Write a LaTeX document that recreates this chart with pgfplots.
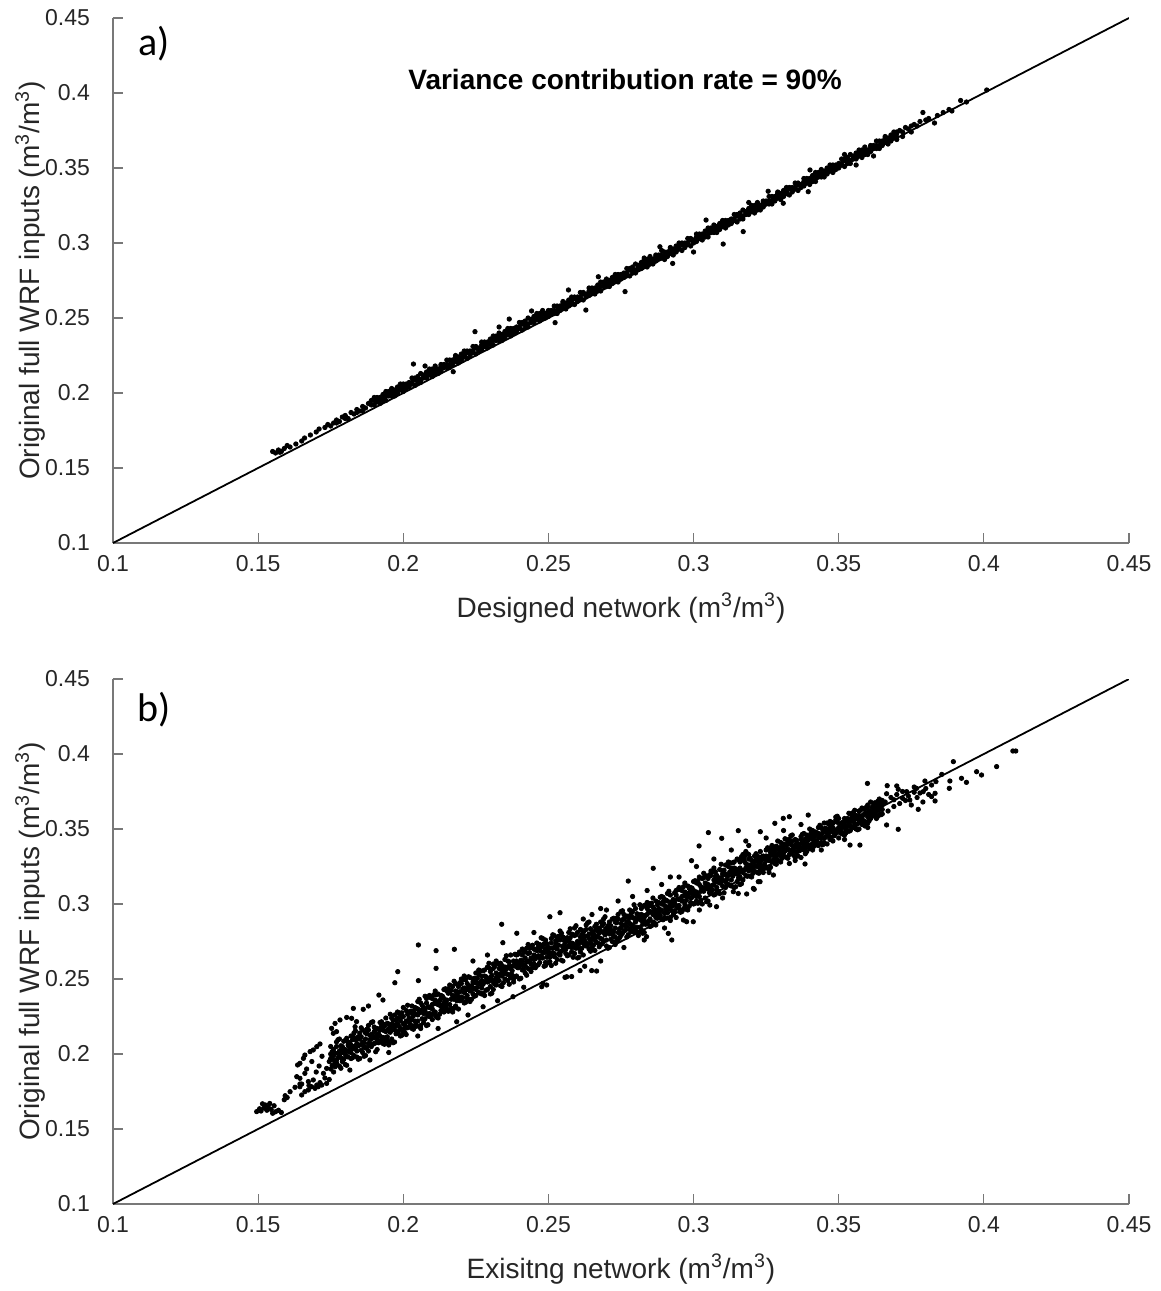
\documentclass[border=0pt]{standalone}
\usepackage{fontspec}
\setmainfont{Liberation Sans}
\newfontfamily\calib{Carlito}
\usepackage{pgfplots}
\usepackage{pgfplotstable}
\pgfplotsset{compat=1.18}
\definecolor{axgray}{RGB}{120,120,120}
\definecolor{txtgray}{RGB}{38,38,38}

\pgfplotstableread{
x a b c
0.190 0.195 0.192 0.197
0.191 0.195 0.194 0.197
0.192 0.193 0.197 0.196
0.193 0.195 0.199 0.196
0.194 0.201 0.195 0.198
0.195 0.200 0.198 0.201
0.196 0.198 0.200 0.203
0.197 0.200 0.202 0.198
0.198 0.204 0.202 0.200
0.199 0.204 0.206 0.202
0.200 0.204 0.201 0.206
0.201 0.206 0.203 0.205
0.202 0.205 0.207 0.204
0.203 0.210 0.207 0.206
0.204 0.210 0.205 0.209
0.205 0.209 0.207 0.211
0.206 0.209 0.213 0.207
0.207 0.211 0.212 0.210
0.208 0.214 0.210 0.212
0.209 0.216 0.212 0.214
0.210 0.211 0.216 0.214
0.211 0.213 0.216 0.218
0.212 0.215 0.216 0.213
0.213 0.219 0.218 0.215
0.214 0.218 0.217 0.219
0.215 0.217 0.222 0.219
0.216 0.219 0.222 0.217
0.217 0.222 0.221 0.219
0.218 0.224 0.221 0.225
0.219 0.220 0.223 0.224
0.220 0.223 0.226 0.222
0.221 0.225 0.228 0.224
0.222 0.227 0.223 0.228
0.223 0.227 0.225 0.228
0.224 0.231 0.227 0.228
0.225 0.226 0.231 0.230
0.226 0.228 0.230 0.229
0.227 0.232 0.229 0.234
0.228 0.232 0.231 0.234
0.229 0.230 0.234 0.233
0.230 0.232 0.236 0.233
0.231 0.238 0.232 0.235
0.232 0.237 0.235 0.238
0.233 0.235 0.237 0.240
0.234 0.237 0.239 0.235
0.235 0.241 0.239 0.237
0.236 0.241 0.243 0.239
0.237 0.241 0.238 0.243
0.238 0.243 0.240 0.242
0.239 0.242 0.244 0.241
0.240 0.247 0.244 0.243
0.241 0.247 0.242 0.246
0.242 0.246 0.244 0.248
0.243 0.246 0.250 0.244
0.244 0.248 0.249 0.247
0.245 0.251 0.247 0.249
0.246 0.253 0.249 0.251
0.247 0.248 0.253 0.251
0.248 0.250 0.253 0.255
0.249 0.252 0.253 0.250
0.250 0.255 0.254 0.251
0.251 0.254 0.253 0.255
0.252 0.253 0.258 0.255
0.253 0.255 0.258 0.253
0.254 0.258 0.257 0.255
0.255 0.260 0.257 0.261
0.256 0.256 0.259 0.260
0.257 0.259 0.262 0.258
0.258 0.261 0.264 0.260
0.259 0.263 0.259 0.264
0.260 0.263 0.261 0.264
0.261 0.267 0.263 0.264
0.262 0.262 0.267 0.266
0.263 0.264 0.266 0.265
0.264 0.268 0.265 0.270
0.265 0.268 0.267 0.270
0.266 0.266 0.270 0.269
0.267 0.268 0.272 0.269
0.268 0.274 0.268 0.271
0.269 0.273 0.271 0.274
0.270 0.271 0.273 0.276
0.271 0.273 0.275 0.271
0.272 0.277 0.275 0.273
0.273 0.277 0.279 0.275
0.274 0.277 0.274 0.279
0.275 0.279 0.276 0.278
0.276 0.278 0.280 0.277
0.277 0.283 0.280 0.279
0.278 0.283 0.278 0.282
0.279 0.282 0.280 0.284
0.280 0.282 0.286 0.280
0.281 0.284 0.285 0.283
0.282 0.287 0.283 0.285
0.283 0.289 0.285 0.287
0.284 0.284 0.289 0.287
0.285 0.286 0.289 0.291
0.286 0.288 0.289 0.286
0.287 0.292 0.291 0.288
0.288 0.291 0.290 0.292
0.289 0.290 0.295 0.292
0.290 0.291 0.294 0.289
0.291 0.294 0.293 0.291
0.292 0.296 0.293 0.297
0.293 0.292 0.295 0.296
0.294 0.295 0.298 0.294
0.295 0.297 0.300 0.296
0.296 0.299 0.295 0.300
0.297 0.299 0.297 0.300
0.298 0.303 0.299 0.300
0.299 0.298 0.303 0.302
0.300 0.300 0.302 0.301
0.301 0.304 0.301 0.306
0.302 0.304 0.303 0.306
0.303 0.302 0.306 0.305
0.304 0.304 0.308 0.305
0.305 0.310 0.304 0.307
0.306 0.309 0.307 0.310
0.307 0.307 0.309 0.312
0.308 0.309 0.311 0.307
0.309 0.313 0.311 0.309
0.310 0.313 0.315 0.311
0.311 0.313 0.310 0.315
0.312 0.315 0.312 0.314
0.313 0.314 0.316 0.313
0.314 0.319 0.316 0.315
0.315 0.319 0.314 0.318
0.316 0.318 0.316 0.320
0.317 0.318 0.322 0.316
0.318 0.320 0.321 0.319
0.319 0.323 0.319 0.321
0.320 0.325 0.321 0.323
0.321 0.320 0.325 0.323
0.322 0.322 0.325 0.327
0.323 0.324 0.325 0.322
0.324 0.328 0.327 0.324
0.325 0.327 0.326 0.328
0.326 0.326 0.331 0.328
0.327 0.328 0.331 0.326
0.328 0.331 0.330 0.328
0.329 0.333 0.330 0.334
0.330 0.329 0.332 0.333
0.331 0.332 0.335 0.331
0.332 0.334 0.337 0.333
0.333 0.336 0.332 0.337
0.334 0.336 0.334 0.337
0.335 0.340 0.336 0.337
0.336 0.335 0.340 0.339
0.337 0.337 0.339 0.338
0.338 0.341 0.338 0.343
0.339 0.341 0.340 0.343
0.340 0.339 0.343 0.342
0.341 0.341 0.345 0.342
0.342 0.347 0.341 0.344
0.343 0.346 0.344 0.347
0.344 0.344 0.346 0.349
0.345 0.346 0.348 0.344
0.346 0.350 0.348 0.346
0.347 0.350 0.352 0.348
0.348 0.350 0.347 0.352
0.349 0.352 0.349 0.351
0.350 0.351 0.353 0.350
0.351 0.356 0.353 0.352
0.352 0.356 0.351 0.355
0.353 0.355 0.353 0.357
0.354 0.355 0.359 0.353
0.355 0.357 0.358 0.356
0.356 0.360 0.356 0.358
0.357 0.362 0.358 0.360
0.358 0.357 0.362 0.360
0.359 0.359 0.362 0.364
0.360 0.361 0.362 0.359
0.361 0.365 0.364 0.361
0.362 0.364 0.363 0.365
0.363 0.363 0.368 0.365
0.364 0.365 0.368 0.363
0.365 0.368 0.367 0.365
0.366 0.370 0.367 0.371
0.367 0.366 0.369 0.370
0.368 0.369 0.372 0.368
0.369 0.371 0.374 0.370
0.370 0.373 0.369 0.374
}\coreA

\pgfplotstableread{
x a b c d
0.175 0.200 0.190 0.197 0.205
0.176 0.196 0.188 0.203 0.199
0.177 0.194 0.208 0.196 0.205
0.178 0.192 0.202 0.199 0.210
0.179 0.195 0.205 0.197 0.201
0.180 0.209 0.193 0.203 0.200
0.181 0.208 0.198 0.206 0.202
0.182 0.212 0.197 0.206 0.201
0.183 0.211 0.199 0.205 0.214
0.184 0.202 0.210 0.198 0.207
0.185 0.197 0.214 0.206 0.210
0.186 0.201 0.208 0.216 0.206
0.187 0.199 0.214 0.210 0.204
0.188 0.219 0.207 0.216 0.202
0.189 0.213 0.210 0.221 0.205
0.190 0.215 0.207 0.211 0.218
0.191 0.203 0.213 0.210 0.217
0.192 0.208 0.216 0.212 0.221
0.193 0.207 0.216 0.211 0.220
0.194 0.209 0.215 0.224 0.211
0.195 0.220 0.208 0.217 0.206
0.196 0.224 0.216 0.220 0.210
0.197 0.218 0.226 0.216 0.208
0.198 0.224 0.220 0.214 0.228
0.199 0.217 0.226 0.212 0.222
0.200 0.220 0.231 0.215 0.225
0.201 0.218 0.222 0.229 0.213
0.202 0.224 0.221 0.228 0.218
0.203 0.227 0.223 0.232 0.217
0.204 0.227 0.222 0.231 0.219
0.205 0.226 0.235 0.222 0.230
0.206 0.219 0.228 0.217 0.234
0.207 0.227 0.231 0.221 0.228
0.208 0.237 0.227 0.219 0.234
0.209 0.231 0.225 0.239 0.227
0.210 0.237 0.223 0.233 0.230
0.211 0.242 0.226 0.236 0.228
0.212 0.233 0.240 0.224 0.234
0.213 0.232 0.239 0.229 0.237
0.214 0.234 0.243 0.228 0.237
0.215 0.233 0.242 0.230 0.236
0.216 0.246 0.233 0.241 0.229
0.217 0.239 0.228 0.245 0.237
0.218 0.242 0.232 0.239 0.247
0.219 0.238 0.230 0.245 0.241
0.220 0.236 0.250 0.238 0.247
0.221 0.234 0.244 0.241 0.252
0.222 0.237 0.247 0.239 0.243
0.223 0.251 0.235 0.245 0.242
0.224 0.250 0.240 0.248 0.244
0.225 0.254 0.239 0.248 0.243
0.226 0.253 0.241 0.247 0.256
0.227 0.244 0.252 0.240 0.249
0.228 0.239 0.256 0.248 0.252
0.229 0.243 0.250 0.258 0.248
0.230 0.240 0.255 0.251 0.245
0.231 0.260 0.248 0.257 0.243
0.232 0.254 0.251 0.262 0.246
0.233 0.257 0.249 0.253 0.260
0.234 0.245 0.255 0.252 0.259
0.235 0.250 0.258 0.254 0.263
0.236 0.249 0.258 0.253 0.262
0.237 0.251 0.257 0.266 0.253
0.238 0.262 0.250 0.259 0.248
0.239 0.266 0.258 0.262 0.252
0.240 0.260 0.268 0.258 0.250
0.241 0.266 0.262 0.256 0.270
0.242 0.259 0.268 0.254 0.264
0.243 0.262 0.273 0.257 0.267
0.244 0.260 0.264 0.271 0.255
0.245 0.266 0.263 0.270 0.260
0.246 0.269 0.265 0.274 0.259
0.247 0.269 0.264 0.273 0.261
0.248 0.268 0.277 0.264 0.272
0.249 0.261 0.270 0.259 0.276
0.250 0.267 0.271 0.261 0.268
0.251 0.277 0.267 0.259 0.274
0.252 0.271 0.265 0.279 0.267
0.253 0.277 0.263 0.273 0.270
0.254 0.282 0.266 0.276 0.268
0.255 0.271 0.278 0.262 0.272
0.256 0.270 0.277 0.267 0.275
0.257 0.272 0.281 0.266 0.275
0.258 0.271 0.280 0.268 0.274
0.259 0.284 0.271 0.279 0.267
0.260 0.275 0.264 0.281 0.273
0.261 0.278 0.268 0.275 0.283
0.262 0.274 0.266 0.281 0.277
0.263 0.272 0.286 0.274 0.283
0.264 0.270 0.280 0.277 0.288
0.265 0.271 0.281 0.273 0.277
0.266 0.285 0.269 0.279 0.276
0.267 0.284 0.274 0.282 0.278
0.268 0.288 0.273 0.282 0.277
0.269 0.287 0.275 0.281 0.290
0.270 0.276 0.284 0.272 0.281
0.271 0.271 0.288 0.280 0.284
0.272 0.275 0.282 0.290 0.280
0.273 0.273 0.288 0.284 0.278
0.274 0.293 0.281 0.290 0.276
0.275 0.287 0.284 0.295 0.279
0.276 0.290 0.282 0.286 0.293
0.277 0.278 0.288 0.285 0.292
0.278 0.283 0.291 0.287 0.296
0.279 0.282 0.291 0.286 0.295
0.280 0.282 0.288 0.297 0.284
0.281 0.293 0.281 0.290 0.279
0.282 0.297 0.289 0.293 0.283
0.283 0.291 0.299 0.289 0.281
0.284 0.297 0.293 0.287 0.301
0.285 0.290 0.299 0.285 0.295
0.286 0.293 0.304 0.288 0.298
0.287 0.291 0.295 0.302 0.286
0.288 0.297 0.294 0.301 0.291
0.289 0.300 0.296 0.305 0.290
0.290 0.299 0.294 0.303 0.291
0.291 0.298 0.307 0.294 0.302
0.292 0.291 0.300 0.289 0.306
0.293 0.299 0.303 0.293 0.300
0.294 0.309 0.299 0.291 0.306
0.295 0.303 0.297 0.311 0.299
0.296 0.309 0.295 0.305 0.302
0.297 0.314 0.298 0.308 0.300
0.298 0.305 0.312 0.296 0.306
0.299 0.304 0.311 0.301 0.309
0.300 0.306 0.315 0.300 0.309
0.301 0.305 0.314 0.302 0.308
0.302 0.318 0.305 0.313 0.301
0.303 0.311 0.300 0.317 0.309
0.304 0.314 0.304 0.311 0.319
0.305 0.310 0.302 0.317 0.313
0.306 0.308 0.322 0.310 0.319
0.307 0.306 0.316 0.313 0.324
0.308 0.309 0.319 0.311 0.315
0.309 0.323 0.307 0.317 0.314
0.310 0.322 0.312 0.320 0.316
0.311 0.326 0.311 0.320 0.315
0.312 0.325 0.313 0.319 0.328
0.313 0.316 0.324 0.312 0.321
0.314 0.311 0.328 0.320 0.324
0.315 0.315 0.322 0.330 0.320
0.316 0.313 0.328 0.324 0.318
0.317 0.333 0.321 0.330 0.316
0.318 0.327 0.324 0.335 0.319
0.319 0.330 0.322 0.326 0.333
0.320 0.318 0.326 0.323 0.329
0.321 0.322 0.328 0.325 0.332
0.322 0.321 0.329 0.325 0.332
0.323 0.323 0.328 0.335 0.325
0.324 0.332 0.323 0.330 0.321
0.325 0.336 0.329 0.332 0.324
0.326 0.331 0.337 0.329 0.323
0.327 0.336 0.333 0.328 0.339
0.328 0.331 0.338 0.327 0.335
0.329 0.333 0.342 0.329 0.337
0.330 0.332 0.335 0.341 0.328
0.331 0.337 0.334 0.340 0.332
0.332 0.339 0.336 0.343 0.331
0.333 0.340 0.336 0.343 0.333
0.334 0.339 0.346 0.336 0.342
0.335 0.331 0.338 0.329 0.343
0.336 0.337 0.340 0.332 0.338
0.337 0.345 0.337 0.331 0.343
0.338 0.341 0.336 0.347 0.338
0.339 0.346 0.335 0.343 0.340
0.340 0.350 0.337 0.345 0.339
0.341 0.343 0.349 0.336 0.344
0.342 0.342 0.348 0.340 0.346
0.343 0.344 0.351 0.339 0.347
0.344 0.344 0.351 0.341 0.346
0.345 0.354 0.344 0.350 0.341
0.346 0.349 0.340 0.354 0.347
0.347 0.351 0.343 0.349 0.355
0.348 0.348 0.342 0.354 0.351
0.349 0.347 0.358 0.349 0.356
0.350 0.344 0.351 0.349 0.357
0.351 0.347 0.354 0.348 0.351
0.352 0.357 0.346 0.353 0.351
0.353 0.357 0.349 0.355 0.352
0.354 0.360 0.349 0.355 0.352
0.355 0.359 0.351 0.355 0.361
0.356 0.353 0.359 0.350 0.357
0.357 0.350 0.362 0.356 0.359
0.358 0.353 0.358 0.364 0.357
0.359 0.352 0.363 0.360 0.355
0.360 0.366 0.358 0.364 0.354
0.361 0.362 0.360 0.368 0.357
0.362 0.365 0.359 0.362 0.367
0.363 0.357 0.364 0.362 0.367
0.364 0.360 0.366 0.363 0.370
0.365 0.360 0.366 0.363 0.369
}\coreB

\pgfplotstableread{
x a b c
0.1755 0.2015 0.1925 0.1985
0.1765 0.1945 0.2005 0.1915
0.1775 0.2095 0.2005 0.1975
0.1785 0.2055 0.1905 0.2025
0.1795 0.2025 0.1965 0.2085
0.1805 0.1985 0.2105 0.1925
0.1815 0.2045 0.2075 0.2015
0.1825 0.2095 0.1975 0.2035
0.1835 0.2155 0.2035 0.2095
0.1845 0.1965 0.2115 0.2055
0.1855 0.2025 0.2115 0.2175
0.1865 0.2045 0.2075 0.1985
0.1875 0.2165 0.2135 0.2045
0.1885 0.2095 0.2065 0.2125
0.1895 0.2065 0.2215 0.2125
0.1905 0.2075 0.2165 0.2015
0.1915 0.2165 0.2135 0.2075
0.1925 0.2185 0.2095 0.2215
0.1935 0.2065 0.2155 0.2185
0.1945 0.2115 0.2205 0.2085
0.1955 0.2175 0.2265 0.2145
0.1965 0.2195 0.2075 0.2225
0.1975 0.2195 0.2135 0.2225
0.1985 0.2275 0.2155 0.2185
0.1995 0.2125 0.2275 0.2245
0.2005 0.2145 0.2205 0.2175
0.2015 0.2265 0.2175 0.2325
0.2025 0.2225 0.2195 0.2285
0.2035 0.2165 0.2285 0.2255
0.2045 0.2185 0.2305 0.2215
0.2055 0.2365 0.2185 0.2275
0.2065 0.2295 0.2235 0.2325
0.2075 0.2235 0.2295 0.2385
0.2085 0.2255 0.2315 0.2195
0.2095 0.2375 0.2315 0.2255
0.2105 0.2335 0.2395 0.2275
0.2115 0.2335 0.2245 0.2395
0.2125 0.2355 0.2265 0.2325
0.2135 0.2325 0.2385 0.2295
0.2145 0.2435 0.2345 0.2315
0.2155 0.2435 0.2285 0.2405
0.2165 0.2365 0.2305 0.2425
0.2175 0.2365 0.2485 0.2305
0.2185 0.2385 0.2415 0.2355
0.2195 0.2475 0.2355 0.2415
0.2205 0.2495 0.2375 0.2435
0.2215 0.2345 0.2495 0.2435
0.2225 0.2365 0.2455 0.2515
0.2235 0.2425 0.2455 0.2365
0.2245 0.2505 0.2475 0.2385
0.2255 0.2475 0.2445 0.2505
0.2265 0.2405 0.2555 0.2465
0.2275 0.2465 0.2555 0.2405
0.2285 0.2515 0.2485 0.2425
0.2295 0.2575 0.2485 0.2605
0.2305 0.2405 0.2495 0.2525
0.2315 0.2495 0.2585 0.2465
0.2325 0.2515 0.2605 0.2485
0.2335 0.2575 0.2455 0.2605
0.2345 0.2535 0.2475 0.2565
0.2355 0.2655 0.2535 0.2565
0.2365 0.2465 0.2615 0.2585
0.2375 0.2525 0.2585 0.2555
0.2385 0.2605 0.2515 0.2665
0.2395 0.2605 0.2575 0.2665
0.2405 0.2505 0.2625 0.2595
0.2415 0.2565 0.2685 0.2595
0.2425 0.2705 0.2525 0.2615
0.2435 0.2675 0.2615 0.2705
0.2445 0.2575 0.2635 0.2725
0.2455 0.2635 0.2695 0.2575
0.2465 0.2715 0.2655 0.2595
0.2475 0.2715 0.2775 0.2655
0.2485 0.2675 0.2585 0.2735
0.2495 0.2735 0.2645 0.2705
0.2505 0.2645 0.2705 0.2615
0.2515 0.2795 0.2705 0.2675
0.2525 0.2755 0.2605 0.2725
0.2535 0.2725 0.2665 0.2785
0.2545 0.2685 0.2805 0.2625
0.2555 0.2725 0.2755 0.2695
0.2565 0.2775 0.2655 0.2715
0.2575 0.2835 0.2715 0.2775
0.2585 0.2645 0.2795 0.2735
0.2595 0.2705 0.2795 0.2855
0.2605 0.2705 0.2735 0.2645
0.2615 0.2825 0.2795 0.2705
0.2625 0.2755 0.2725 0.2785
0.2635 0.2725 0.2875 0.2785
0.2645 0.2745 0.2835 0.2685
0.2655 0.2815 0.2785 0.2725
0.2665 0.2835 0.2745 0.2865
0.2675 0.2715 0.2805 0.2835
0.2685 0.2765 0.2855 0.2735
0.2695 0.2825 0.2915 0.2795
0.2705 0.2825 0.2705 0.2855
0.2715 0.2825 0.2765 0.2855
0.2725 0.2905 0.2785 0.2815
0.2735 0.2755 0.2905 0.2875
0.2745 0.2775 0.2835 0.2805
0.2755 0.2895 0.2805 0.2955
0.2765 0.2855 0.2825 0.2915
0.2775 0.2795 0.2915 0.2885
0.2785 0.2815 0.2935 0.2845
0.2795 0.2995 0.2815 0.2905
0.2805 0.2905 0.2845 0.2935
0.2815 0.2845 0.2905 0.2995
0.2825 0.2865 0.2925 0.2805
0.2835 0.2985 0.2925 0.2865
0.2845 0.2945 0.3005 0.2885
0.2855 0.2945 0.2855 0.3005
0.2865 0.2965 0.2875 0.2935
0.2875 0.2935 0.2995 0.2905
0.2885 0.3045 0.2955 0.2925
0.2895 0.3045 0.2895 0.3015
0.2905 0.2965 0.2905 0.3025
0.2915 0.2965 0.3085 0.2905
0.2925 0.2985 0.3015 0.2955
0.2935 0.3075 0.2955 0.3015
0.2945 0.3095 0.2975 0.3035
0.2955 0.2945 0.3095 0.3035
0.2965 0.2965 0.3055 0.3115
0.2975 0.3025 0.3055 0.2965
0.2985 0.3105 0.3075 0.2985
0.2995 0.3075 0.3045 0.3105
0.3005 0.3005 0.3155 0.3065
0.3015 0.3065 0.3155 0.3005
0.3025 0.3115 0.3085 0.3025
0.3035 0.3175 0.3085 0.3205
0.3045 0.3015 0.3105 0.3135
0.3055 0.3105 0.3195 0.3075
0.3065 0.3125 0.3215 0.3095
0.3075 0.3185 0.3065 0.3215
0.3085 0.3145 0.3085 0.3175
0.3095 0.3265 0.3145 0.3175
0.3105 0.3075 0.3225 0.3195
0.3115 0.3135 0.3195 0.3165
0.3125 0.3215 0.3125 0.3275
0.3135 0.3215 0.3185 0.3275
0.3145 0.3115 0.3235 0.3205
0.3155 0.3175 0.3295 0.3205
0.3165 0.3315 0.3135 0.3225
0.3175 0.3285 0.3225 0.3315
0.3185 0.3185 0.3245 0.3335
0.3195 0.3245 0.3305 0.3185
0.3205 0.3285 0.3245 0.3205
0.3215 0.3295 0.3335 0.3255
0.3225 0.3265 0.3205 0.3305
0.3235 0.3315 0.3255 0.3295
0.3245 0.3265 0.3305 0.3245
0.3255 0.3375 0.3315 0.3295
0.3265 0.3345 0.3245 0.3325
0.3275 0.3335 0.3295 0.3375
0.3285 0.3305 0.3385 0.3265
0.3295 0.3355 0.3375 0.3335
0.3305 0.3385 0.3305 0.3345
0.3315 0.3435 0.3355 0.3395
0.3325 0.3305 0.3405 0.3365
0.3335 0.3355 0.3415 0.3455
0.3345 0.3365 0.3385 0.3325
0.3355 0.3425 0.3405 0.3345
0.3365 0.3375 0.3355 0.3395
0.3375 0.3365 0.3465 0.3405
0.3385 0.3375 0.3435 0.3335
0.3395 0.3445 0.3425 0.3385
0.3405 0.3455 0.3395 0.3475
0.3415 0.3385 0.3445 0.3465
0.3425 0.3415 0.3475 0.3395
0.3435 0.3465 0.3525 0.3445
0.3445 0.3475 0.3395 0.3495
0.3455 0.3485 0.3445 0.3505
0.3465 0.3535 0.3455 0.3475
0.3475 0.3445 0.3545 0.3525
0.3485 0.3455 0.3495 0.3475
0.3495 0.3545 0.3485 0.3585
0.3505 0.3495 0.3475 0.3535
0.3515 0.3465 0.3545 0.3525
0.3525 0.3475 0.3555 0.3495
0.3535 0.3605 0.3485 0.3545
0.3545 0.3555 0.3515 0.3575
0.3555 0.3525 0.3565 0.3625
0.3565 0.3535 0.3575 0.3495
0.3575 0.3625 0.3585 0.3545
0.3585 0.3595 0.3635 0.3555
0.3595 0.3605 0.3545 0.3645
0.3605 0.3615 0.3555 0.3595
0.3615 0.3605 0.3645 0.3585
0.3625 0.3675 0.3615 0.3595
0.3635 0.3685 0.3585 0.3665
0.3645 0.3635 0.3595 0.3675
}\coreBB

\pgfplotsset{
  base/.style={
    scale only axis, width=508pt, height=262.5pt,
    xmin=0.1, xmax=0.45, ymin=0.1, ymax=0.45,
    axis x line*=bottom, axis y line*=left,
    axis line style={axgray, line width=0.6pt, -},
    tick style={axgray, line width=0.6pt},
    tick align=inside, major tick length=5pt,
    xtick={0.1,0.15,0.2,0.25,0.3,0.35,0.4,0.45},
    ytick={0.1,0.15,0.2,0.25,0.3,0.35,0.4,0.45},
    xticklabels={0.1,0.15,0.2,0.25,0.3,0.35,0.4,0.45},
    yticklabels={0.1,0.15,0.2,0.25,0.3,0.35,0.4,0.45},
    ticklabel style={font=\fontsize{11.5pt}{14pt}\selectfont, text=txtgray},
    yticklabel style={xshift=-8pt},
    xticklabel style={yshift=-2.5pt},
    xlabel style={font=\fontsize{14pt}{17pt}\selectfont, text=txtgray, at={(axis description cs:0.5,-0.124)}, anchor=center},
    ylabel style={font=\fontsize{14pt}{17pt}\selectfont, text=txtgray, at={(axis description cs:-0.0815,0.5)}, anchor=center},
  },
  dots/.style={only marks, mark=*, mark size=1.1pt, mark options={draw=none, fill=black}},
}

\begin{document}
\begin{tikzpicture}
\useasboundingbox (-56.5pt,-374pt) rectangle (524pt,271.5pt);

\begin{axis}[base, at={(0pt,0pt)}, anchor=south west,
  xlabel={Designed network (m\textsuperscript{3}/m\textsuperscript{3})},
  ylabel={Original full WRF inputs (m\textsuperscript{3}/m\textsuperscript{3})}]
\addplot[black, line width=0.9pt] coordinates {(0.1,0.1) (0.45,0.45)};
\addplot[dots] table[x=x, y=a] {\coreA};
\addplot[dots] table[x=x, y=b] {\coreA};
\addplot[dots] table[x=x, y=c] {\coreA};
\addplot[dots] coordinates {
(0.155,0.161)(0.156,0.160)(0.157,0.162)(0.1575,0.1605)(0.158,0.161)(0.159,0.163)(0.160,0.165)(0.161,0.164)
(0.163,0.166)(0.165,0.168)(0.166,0.170)(0.168,0.172)(0.170,0.174)(0.171,0.176)(0.173,0.177)(0.174,0.179)
(0.175,0.178)(0.176,0.180)(0.177,0.182)(0.178,0.181)(0.179,0.184)(0.180,0.185)(0.181,0.183)(0.182,0.187)
(0.183,0.186)(0.184,0.189)(0.185,0.188)(0.186,0.191)(0.187,0.190)(0.188,0.193)(0.189,0.192)(0.189,0.195)
(0.184,0.187)(0.186,0.188)(0.180,0.183)(0.177,0.180)
(0.371,0.375)(0.372,0.374)(0.373,0.377)(0.374,0.376)(0.375,0.378)(0.376,0.379)(0.377,0.378)(0.378,0.381)
(0.379,0.387)(0.380,0.382)(0.381,0.383)(0.383,0.380)(0.384,0.385)(0.386,0.387)(0.388,0.389)(0.389,0.388)
(0.392,0.395)(0.394,0.394)(0.401,0.402)(0.372,0.371)(0.375,0.374)(0.370,0.3705)
(0.2035,0.2193)(0.2075,0.218)(0.2247,0.2409)(0.2365,0.2493)(0.2442,0.2547)(0.2569,0.2687)(0.2672,0.2775)
(0.2884,0.2975)(0.3043,0.3153)(0.3257,0.3345)(0.3401,0.3487)(0.2172,0.2142)(0.2523,0.2469)(0.2629,0.2553)
(0.2764,0.2676)(0.3102,0.2993)(0.3171,0.3076)(0.2928,0.2864)(0.3309,0.3265)(0.3395,0.3342)(0.300,0.294)
(0.356,0.352)(0.362,0.358)(0.319,0.327)(0.352,0.359)(0.233,0.244)(0.283,0.290)
};
\node[font=\bfseries\fontsize{14pt}{17pt}\selectfont] at (axis cs:0.2764,0.4087) {Variance contribution rate = 90\%};
\node[font=\calib\fontsize{20pt}{24pt}\selectfont] at (axis cs:0.1141,0.4327) {a)};
\end{axis}

\begin{axis}[base, at={(0pt,-330.5pt)}, anchor=south west,
  xlabel={Exisitng network (m\textsuperscript{3}/m\textsuperscript{3})},
  ylabel={Original full WRF inputs (m\textsuperscript{3}/m\textsuperscript{3})}]
\addplot[black, line width=0.9pt] coordinates {(0.1,0.1) (0.45,0.45)};
\addplot[dots] table[x=x, y=a] {\coreB};
\addplot[dots] table[x=x, y=b] {\coreB};
\addplot[dots] table[x=x, y=c] {\coreB};
\addplot[dots] table[x=x, y=d] {\coreB};
\addplot[dots] table[x=x, y=a] {\coreBB};
\addplot[dots] table[x=x, y=b] {\coreBB};
\addplot[dots] table[x=x, y=c] {\coreBB};
\addplot[dots] coordinates {
(0.1495,0.1616)(0.1505,0.1635)(0.151,0.162)(0.152,0.164)(0.1525,0.166)(0.153,0.1625)(0.1535,0.1645)(0.154,0.167)
(0.1545,0.163)(0.155,0.1605)(0.156,0.1615)(0.157,0.1625)(0.158,0.161)(0.1555,0.1655)(0.1515,0.1668)
(0.1593,0.1722)(0.161,0.1749)(0.1627,0.1778)(0.1644,0.18)(0.159,0.1695)(0.160,0.171)
(0.1636,0.1927)(0.1644,0.1938)(0.1656,0.1971)(0.1661,0.1993)(0.1679,0.2016)(0.1690,0.2027)(0.1702,0.2049)
(0.1713,0.2067)(0.1633,0.1849)(0.1644,0.1838)(0.1661,0.1871)(0.1673,0.1816)(0.1690,0.1827)(0.1702,0.1793)
(0.1713,0.1809)(0.1725,0.1871)(0.1736,0.1904)(0.1650,0.1727)(0.1661,0.1749)(0.1673,0.1760)(0.1684,0.1782)
(0.1696,0.1771)(0.1707,0.1782)(0.1719,0.1793)(0.1736,0.1804)(0.1644,0.1782)(0.1667,0.1900)(0.1685,0.1950)
(0.1720,0.1985)(0.1700,0.1880)(0.1730,0.1840)(0.1675,0.1790)(0.1745,0.1830)(0.1745,0.1950)(0.1650,0.1800)
(0.1710,0.1920)
(0.1753,0.2171)(0.1765,0.2204)(0.1782,0.2227)(0.1805,0.2244)(0.1822,0.2238)(0.1759,0.2138)(0.1770,0.2149)
(0.1828,0.2304)(0.1862,0.2298)(0.1839,0.2216)(0.1834,0.2182)
(0.2052,0.2727)(0.2113,0.2689)(0.2176,0.2698)(0.2113,0.2571)(0.1981,0.2549)(0.1971,0.2475)(0.1916,0.2393)
(0.2052,0.2489)(0.2339,0.2865)(0.2391,0.2805)(0.2505,0.2915)(0.254,0.2942)(0.2343,0.2742)(0.188,0.232)
(0.193,0.236)(0.224,0.262)(0.229,0.266)(0.245,0.281)
(0.2184,0.2215)(0.2223,0.226)(0.2275,0.2315)(0.2378,0.2382)(0.2481,0.2471)(0.1885,0.196)(0.1816,0.1893)
(0.2563,0.2515)(0.2666,0.2553)(0.2609,0.2556)(0.2649,0.2556)(0.2557,0.2511)(0.2580,0.2516)(0.2494,0.2460)
(0.2477,0.2449)(0.195,0.201)(0.205,0.212)(0.212,0.217)(0.2415,0.2445)(0.2325,0.2355)(0.2625,0.2585)
(0.2861,0.3238)(0.2775,0.3153)(0.3051,0.3476)(0.3154,0.3489)(0.3097,0.3438)(0.3019,0.3387)(0.2993,0.3289)
(0.3309,0.3571)(0.333,0.3582)(0.328,0.3538)(0.323,0.3482)(0.3395,0.3593)(0.270,0.296)(0.265,0.293)
(0.292,0.318)(0.318,0.342)
(0.3599,0.3804)(0.3667,0.3789)(0.3700,0.3787)
(0.3384,0.3267)(0.3573,0.3393)(0.3539,0.3393)(0.3209,0.3098)(0.3229,0.3149)(0.3705,0.3498)(0.3665,0.3527)
(0.3774,0.3631)(0.382,0.3716)(0.3832,0.3687)(0.3835,0.3816)(0.3855,0.3864)(0.3883,0.382)(0.3881,0.3771)
(0.3923,0.3838)(0.394,0.3811)(0.3895,0.3949)(0.3975,0.3882)(0.3992,0.386)(0.4044,0.3916)(0.41,0.402)(0.411,0.402)
(0.2925,0.276)(0.2913,0.2804)(0.2838,0.2782)(0.2965,0.2893)(0.2976,0.2882)(0.2999,0.2882)(0.3079,0.2982)
(0.3056,0.2993)(0.3154,0.307)(0.3183,0.3067)(0.3137,0.3082)(0.3206,0.3104)(0.3223,0.3149)(0.3275,0.3193)
(0.366,0.368)(0.367,0.362)(0.368,0.371)(0.369,0.365)(0.370,0.373)(0.371,0.367)(0.372,0.375)(0.373,0.369)
(0.374,0.372)(0.375,0.366)(0.376,0.378)(0.377,0.371)(0.378,0.374)(0.379,0.368)(0.380,0.377)(0.381,0.373)
(0.376,0.3745)(0.369,0.3695)(0.372,0.3705)(0.3665,0.3735)(0.3705,0.3765)
(0.3820,0.3793)(0.3791,0.3749)(0.3768,0.3771)(0.3734,0.3749)(0.3745,0.3693)(0.3832,0.3738)(0.3797,0.382)
(0.262,0.290)(0.268,0.297)(0.274,0.302)(0.279,0.305)(0.284,0.309)(0.289,0.313)(0.295,0.318)(0.301,0.325)
(0.307,0.330)(0.313,0.336)(0.319,0.339)(0.325,0.344)(0.331,0.349)(0.337,0.353)
(0.268,0.262)(0.276,0.271)(0.283,0.276)(0.290,0.284)(0.302,0.296)(0.310,0.304)(0.326,0.321)(0.333,0.327)
(0.344,0.336)(0.352,0.343)(0.360,0.351)
};
\node[font=\calib\fontsize{20pt}{24pt}\selectfont] at (axis cs:0.1141,0.4293) {b)};
\end{axis}
\end{tikzpicture}
\end{document}
